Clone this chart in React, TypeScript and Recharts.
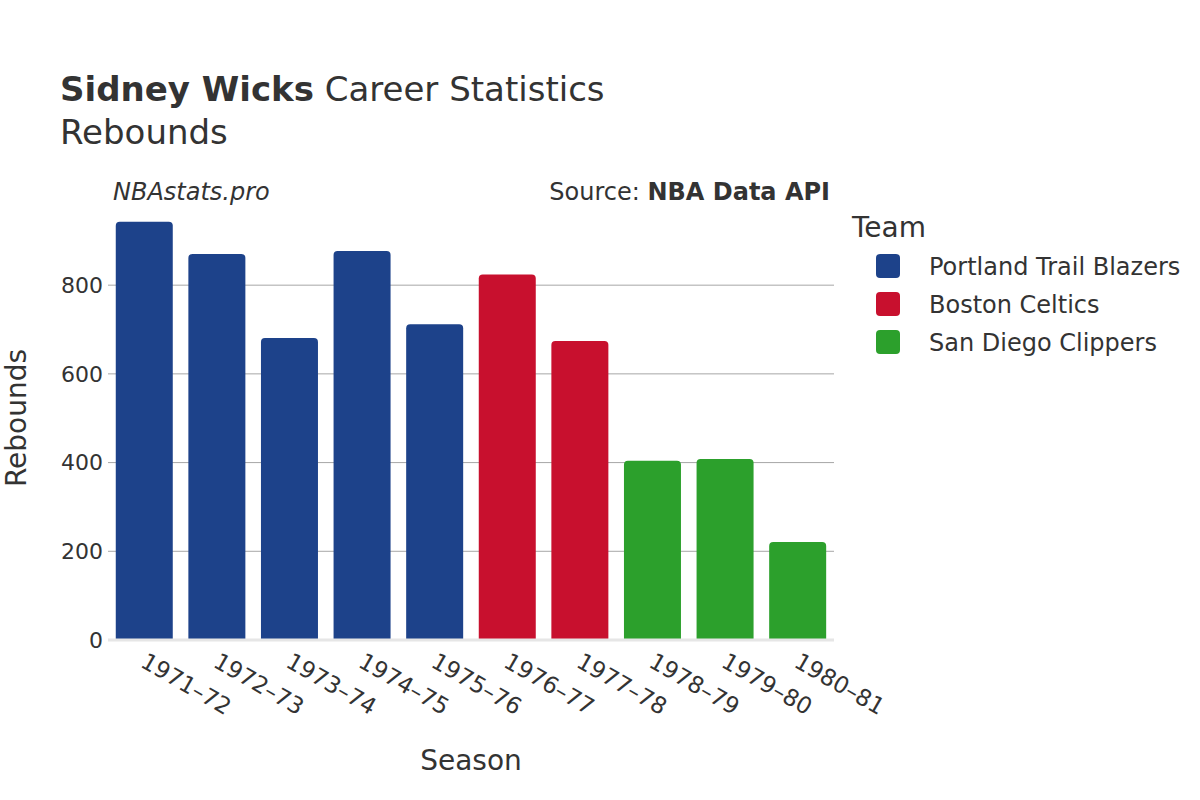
import React from 'react';
import { BarChart, Bar, Cell, XAxis, YAxis, CartesianGrid } from 'recharts';

const seasons = ['1971–72', '1972–73', '1973–74', '1974–75', '1975–76', '1976–77', '1977–78', '1978–79', '1979–80', '1980–81'];
const seasonTeams = [
  'Portland Trail Blazers', 'Portland Trail Blazers', 'Portland Trail Blazers', 'Portland Trail Blazers', 'Portland Trail Blazers',
  'Boston Celtics', 'Boston Celtics',
  'San Diego Clippers', 'San Diego Clippers', 'San Diego Clippers',
];
const rebounds = [943, 870, 681, 877, 712, 824, 674, 404, 408, 221];

const teams = ['Portland Trail Blazers', 'Boston Celtics', 'San Diego Clippers'];
const teamColors = ['#1d428a', '#c8102e', '#2ca02c'];

const yTicks = [0, 200, 400, 600, 800];

const data = seasons.map((season, i) => ({ season, team: seasonTeams[i], rebounds: rebounds[i] }));

const FONT = '"DejaVu Sans", sans-serif';
const TEXT = '#333333';

function SeasonTick({ x, y, payload }: any) {
  const ax = x - 5;
  const ay = y + 26;
  return (
    <text
      x={ax}
      y={ay}
      transform={`rotate(30, ${ax}, ${ay})`}
      textAnchor="start"
      fontSize={23}
      fontFamily={FONT}
      fill={TEXT}
    >
      {payload.value}
    </text>
  );
}

export default function App() {
  return (
    <div style={{ position: 'absolute', left: 0, top: 0, width: 1200, height: 800, background: '#fff' }}>
      <BarChart
        width={1200}
        height={800}
        data={data}
        margin={{ top: 200, right: 366, bottom: 60, left: 48 }}
        barCategoryGap="10.7%"
      >
        <CartesianGrid vertical={false} horizontalValues={yTicks} stroke="#a6a6a6" strokeWidth={1} />
        <XAxis
          dataKey="season"
          interval={0}
          height={100}
          tick={<SeasonTick />}
          tickLine={false}
          tickSize={0}
          tickMargin={0}
          axisLine={{ stroke: '#e6e6e6', strokeWidth: 3 }}
        />
        <YAxis
          width={60}
          domain={[0, 992]}
          ticks={yTicks}
          axisLine={false}
          tickLine={false}
          tickSize={0}
          tickMargin={5}
          tick={{ fill: TEXT, fontSize: 22, fontFamily: FONT }}
        />
        <Bar dataKey="rebounds" radius={[4, 4, 0, 0]} isAnimationActive={false}>
          {data.map((d, i) => (
            <Cell key={i} fill={teamColors[teams.indexOf(d.team)]} />
          ))}
        </Bar>
      </BarChart>
      <svg
        width={1200}
        height={800}
        style={{ position: 'absolute', left: 0, top: 0, pointerEvents: 'none' }}
        fontFamily={FONT}
      >
        <text x={60} y={101} fontSize={34} fill={TEXT}>
          <tspan fontWeight="bold">Sidney Wicks</tspan> Career Statistics
        </text>
        <text x={60} y={144} fontSize={34} fill={TEXT}>Rebounds</text>
        <text x={113} y={200} fontSize={24} fontStyle="italic" fill={TEXT}>NBAstats.pro</text>
        <text x={830} y={200} fontSize={24} textAnchor="end" fill={TEXT}>
          Source: <tspan fontWeight="bold">NBA Data API</tspan>
        </text>
        <text x={471} y={770} fontSize={28} textAnchor="middle" fill={TEXT}>Season</text>
        <text x={26} y={418} fontSize={28} textAnchor="middle" fill={TEXT} transform="rotate(-90, 26, 418)">Rebounds</text>
        <text x={852} y={237} fontSize={28} fill={TEXT}>Team</text>
        {teams.map((t, i) => (
          <g key={t}>
            <rect x={876} y={254 + i * 38} width={24} height={24} rx={4} fill={teamColors[i]} />
            <text x={929} y={275 + i * 38} fontSize={24} fill={TEXT}>{t}</text>
          </g>
        ))}
      </svg>
    </div>
  );
}
